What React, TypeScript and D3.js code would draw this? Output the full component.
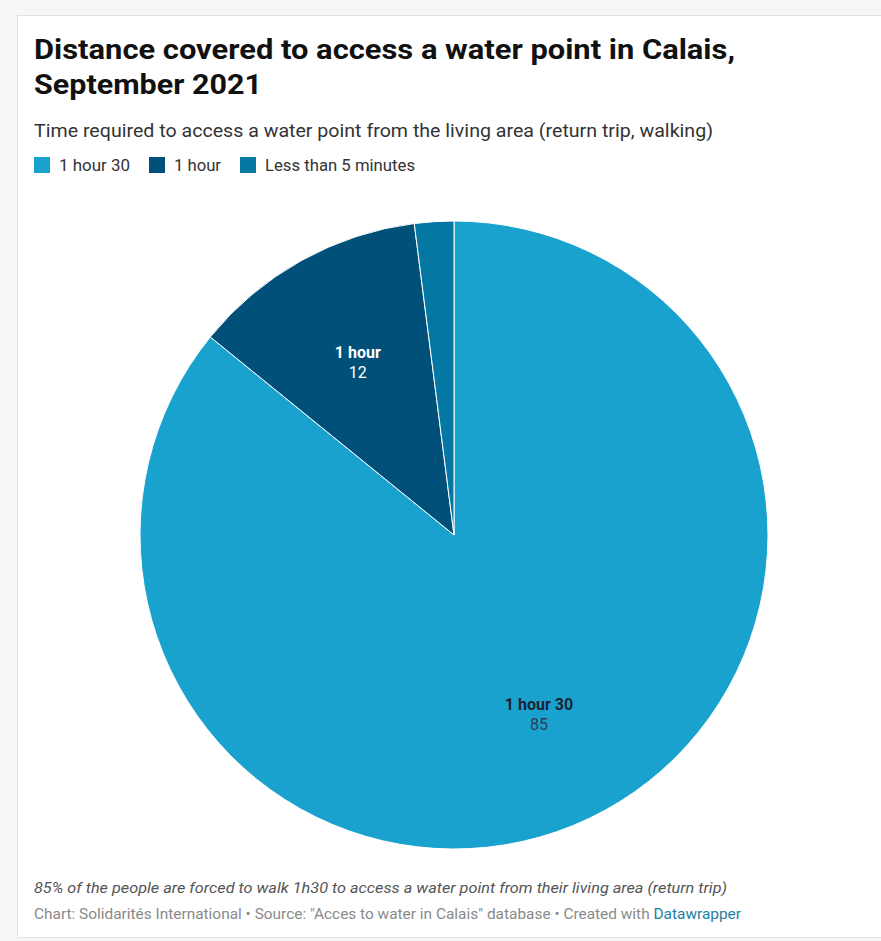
import React from "react";
import * as d3 from "d3";

const categories = ["1 hour 30", "1 hour", "Less than 5 minutes"];
const values = [85, 12, 2];
const colors = ["#1aa2cf", "#00507a", "#0478a2"];
const showLabel = [true, true, false];
const labelColors = ["#1b2433", "#ffffff", "#ffffff"];
const valueColors = ["#2c3e50", "#ffffff", "#ffffff"];

const title = ["Distance covered to access a water point in Calais,", "September 2021"];
const subtitle = "Time required to access a water point from the living area (return trip, walking)";
const note = "85% of the people are forced to walk 1h30 to access a water point from their living area (return trip)";
const creditParts = ["Chart: Solidarités International • Source: \"Acces to water in Calais\" database • Created with ", "Datawrapper"];

const W = 881;
const H = 941;
const cx = 454;
const cy = 535;
const R = 314;

export default function App() {
  const data = categories.map((c, i) => ({ name: c, value: values[i], color: colors[i], i }));
  const pie = d3.pie<any>().value((d) => d.value).sort(null);
  const arcs = pie(data);
  const arc = d3.arc<any>().innerRadius(0).outerRadius(R);
  const labelArc = d3.arc<any>().innerRadius(R * 0.63).outerRadius(R * 0.63);

  const legendX = [34, 149, 240];
  const legendW = [71, 47, 150];
  const font = "Roboto, 'Noto Sans', sans-serif";

  return (
    <div style={{ position: "absolute", left: 0, top: 0 }}>
      <svg width={W} height={H} style={{ display: "block" }} fontFamily={font}>
        <rect x={0} y={0} width={W} height={H} fill="#f6f6f6" />
        <rect x={17.5} y={15.5} width={W + 10} height={922} fill="#ffffff" stroke="#e2e2e2" strokeWidth={1} />
        <text x={34} y={59} fontSize={28} fontWeight={700} fill="#111" textLength={701} lengthAdjust="spacingAndGlyphs">
          {title[0]}
        </text>
        <text x={34} y={94} fontSize={28} fontWeight={700} fill="#111" textLength={228} lengthAdjust="spacingAndGlyphs">
          {title[1]}
        </text>
        <text x={34} y={137} fontSize={17.5} fill="#333" textLength={679} lengthAdjust="spacingAndGlyphs">
          {subtitle}
        </text>
        {categories.map((c, i) => (
          <g key={c} transform={`translate(${legendX[i]},157)`}>
            <rect x={0} y={0} width={16} height={16} fill={colors[i]} />
            <text x={25} y={14} fontSize={16} fill="#333" textLength={legendW[i]} lengthAdjust="spacingAndGlyphs">
              {c}
            </text>
          </g>
        ))}
        <g transform={`translate(${cx},${cy})`}>
          {arcs.map((a, i) => (
            <path key={i} d={arc(a) as string} fill={a.data.color} stroke="#ffffff" strokeWidth={1} />
          ))}
          {arcs.map((a, i) => {
            if (!showLabel[i]) return null;
            const [lx, ly] = labelArc.centroid(a);
            return (
              <g key={"l" + i}>
                <text x={lx} y={ly - 4} textAnchor="middle" fontSize={16} fontWeight={700} fill={labelColors[i]}>
                  {a.data.name}
                </text>
                <text x={lx} y={ly + 16} textAnchor="middle" fontSize={16} fill={valueColors[i]}>
                  {a.data.value}
                </text>
              </g>
            );
          })}
        </g>
        <text x={34} y={893} fontSize={15.5} fontStyle="italic" fill="#555" textLength={693} lengthAdjust="spacingAndGlyphs">
          {note}
        </text>
        <text x={34} y={919} fontSize={15} fill="#8a8a8a" textLength={707} lengthAdjust="spacingAndGlyphs">
          <tspan>{creditParts[0]}</tspan>
          <tspan fill="#1d81a2">{creditParts[1]}</tspan>
        </text>
      </svg>
    </div>
  );
}
